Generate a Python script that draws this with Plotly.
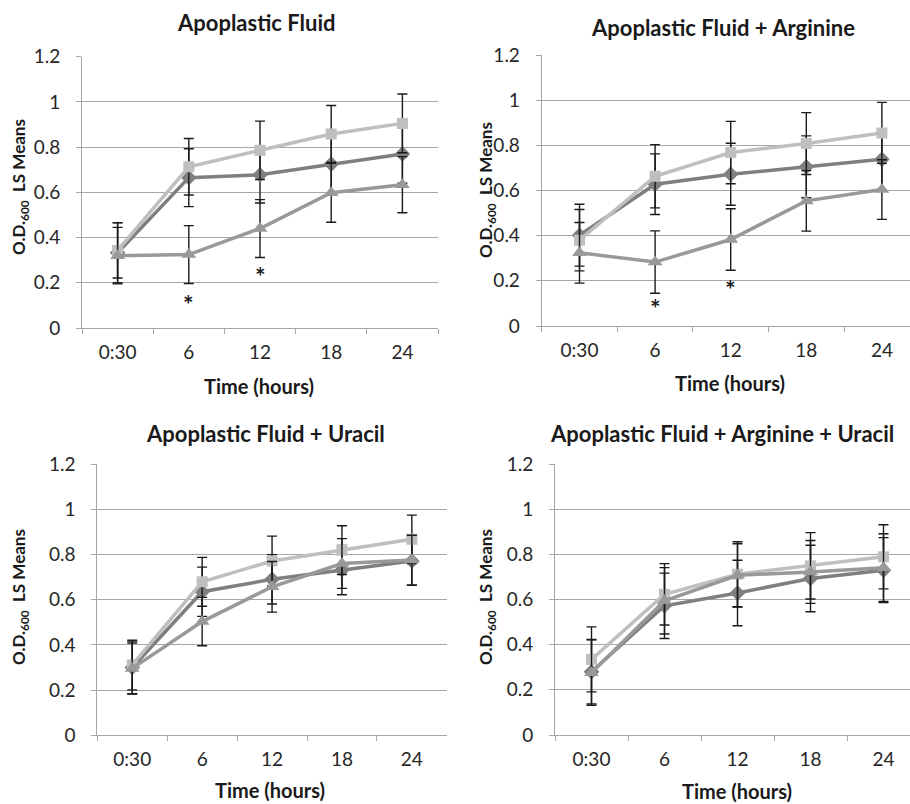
import plotly.graph_objects as go

times = ["0:30", "6", "12", "18", "24"]

titles = ["Apoplastic Fluid", "Apoplastic Fluid + Arginine",
          "Apoplastic Fluid + Uracil", "Apoplastic Fluid + Arginine + Uracil"]

# Series: diamond (dark), square (light), triangle (medium)
p1_diamond = [0.333, 0.665, 0.678, 0.725, 0.770]
p1_diamond_err = [0.133, 0.128, 0.125, 0.130, 0.130]
p1_square = [0.343, 0.713, 0.786, 0.858, 0.905]
p1_square_err = [0.122, 0.125, 0.129, 0.126, 0.130]
p1_triangle = [0.320, 0.325, 0.440, 0.598, 0.634]
p1_triangle_err = [0.125, 0.128, 0.128, 0.130, 0.124]

p2_diamond = [0.402, 0.628, 0.672, 0.705, 0.738]
p2_diamond_err = [0.137, 0.134, 0.137, 0.137, 0.135]
p2_square = [0.380, 0.663, 0.768, 0.808, 0.855]
p2_square_err = [0.136, 0.140, 0.138, 0.137, 0.135]
p2_triangle = [0.324, 0.283, 0.383, 0.554, 0.604]
p2_triangle_err = [0.134, 0.138, 0.136, 0.134, 0.132]

p3_diamond = [0.300, 0.635, 0.690, 0.731, 0.771]
p3_diamond_err = [0.117, 0.109, 0.109, 0.109, 0.108]
p3_square = [0.311, 0.679, 0.771, 0.819, 0.867]
p3_square_err = [0.110, 0.108, 0.110, 0.108, 0.107]
p3_triangle = [0.296, 0.503, 0.657, 0.760, 0.775]
p3_triangle_err = [0.112, 0.107, 0.112, 0.110, 0.110]

p4_diamond = [0.280, 0.572, 0.629, 0.693, 0.730]
p4_diamond_err = [0.143, 0.145, 0.145, 0.147, 0.144]
p4_square = [0.335, 0.623, 0.712, 0.749, 0.789]
p4_square_err = [0.144, 0.136, 0.144, 0.147, 0.142]
p4_triangle = [0.276, 0.594, 0.707, 0.722, 0.741]
p4_triangle_err = [0.145, 0.147, 0.140, 0.139, 0.150]

# significance markers: (panel, time label, y)
stars = [(1, "6", 0.133), (1, "12", 0.258), (2, "6", 0.106), (2, "12", 0.19)]

panels = [
    (p1_diamond, p1_diamond_err, p1_square, p1_square_err, p1_triangle, p1_triangle_err),
    (p2_diamond, p2_diamond_err, p2_square, p2_square_err, p2_triangle, p2_triangle_err),
    (p3_diamond, p3_diamond_err, p3_square, p3_square_err, p3_triangle, p3_triangle_err),
    (p4_diamond, p4_diamond_err, p4_square, p4_square_err, p4_triangle, p4_triangle_err),
]

W, H = 910, 804
FONT = "Lato, Open Sans, sans-serif"
TXT = "#262626"
GRID = "#A6A6A6"

# pixel layout: (left, right, y0 pixel, y1.2 pixel, category spacing)
geo = [
    (82.0, 438.0, 328.0, 56.7, 71.2),
    (541.7, 910.0, 326.0, 55.0, 75.6),
    (97.3, 446.7, 735.3, 464.0, 69.9),
    (555.0, 910.0, 735.0, 464.0, 73.0),
]
title_pos = [(256, 22), (723, 27), (265, 433), (722, 433)]
xtitle_pos = [(259, 386), (730, 383), (270, 790), (737, 791)]
ytitle_pos = [(20, 187), (487, 190), (20, 597), (487, 597)]

series_style = [
    ("#7F7F7F", "diamond", 12),
    ("#BFBFBF", "square", 11),
    ("#999999", "triangle-up", 13),
]

fig = go.Figure()
annotations = []
for i, pdata in enumerate(panels):
    n = i + 1
    xa = "x" if n == 1 else f"x{n}"
    ya = "y" if n == 1 else f"y{n}"
    for s in range(3):
        vals = pdata[2 * s]
        errs = pdata[2 * s + 1]
        col, sym, sz = series_style[s]
        fig.add_trace(go.Scatter(
            x=times, y=vals, mode="lines+markers",
            line=dict(color=col, width=3.5),
            marker=dict(symbol=sym, size=sz, color=col, line=dict(width=0)),
            error_y=dict(type="data", array=errs, visible=True,
                         color="#1a1a1a", thickness=1.4, width=5),
            xaxis=xa, yaxis=ya, showlegend=False, hoverinfo="skip",
        ))
    left, right, py0, py12, sp = geo[i]
    xr_end = -0.5 + (right - left) / sp
    xkey = "xaxis" if n == 1 else f"xaxis{n}"
    ykey = "yaxis" if n == 1 else f"yaxis{n}"
    fig.update_layout({
        xkey: dict(
            domain=[left / W, right / W], anchor=ya, type="category",
            categoryorder="array", categoryarray=times,
            range=[-0.5, xr_end], tickson="boundaries", automargin=False,
            ticks="outside", ticklen=5, tickcolor=GRID, tickwidth=1,
            showline=True, linecolor=GRID, linewidth=1,
            showgrid=False, zeroline=False,
            tickfont=dict(family=FONT, size=19, color=TXT),
            ticklabelstandoff=7,
        ),
        ykey: dict(
            domain=[(H - py0) / H, (H - py12) / H], anchor=xa, automargin=False,
            range=[0, 1.2], tickvals=[0, 0.2, 0.4, 0.6, 0.8, 1, 1.2],
            ticktext=["0", "0.2", "0.4", "0.6", "0.8", "1", "1.2"],
            ticks="outside", ticklen=5, tickcolor=GRID, tickwidth=1,
            showline=True, linecolor=GRID, linewidth=1,
            showgrid=True, gridcolor=GRID, gridwidth=1, zeroline=False,
            tickfont=dict(family=FONT, size=19, color=TXT),
            ticklabelstandoff=12,
        ),
    })
    tx, ty = title_pos[i]
    annotations.append(dict(
        text=f"<b>{titles[i]}</b>", x=tx / W, y=1 - ty / H, xref="paper", yref="paper",
        xanchor="center", yanchor="middle", showarrow=False,
        font=dict(family=FONT, size=22, color="#1a1a1a")))
    xx, xy = xtitle_pos[i]
    annotations.append(dict(
        text="<b>Time (hours)</b>", x=xx / W, y=1 - xy / H, xref="paper", yref="paper",
        xanchor="center", yanchor="middle", showarrow=False,
        font=dict(family=FONT, size=20, color="#1a1a1a")))
    yx, yy = ytitle_pos[i]
    annotations.append(dict(
        text="<b>O.D.<sub>600</sub>  LS Means</b>", x=yx / W, y=1 - yy / H,
        xref="paper", yref="paper", textangle=-90,
        xanchor="center", yanchor="middle", showarrow=False,
        font=dict(family=FONT, size=17, color="#1a1a1a")))

for (pn, t, yv) in stars:
    xa = "x" if pn == 1 else f"x{pn}"
    ya = "y" if pn == 1 else f"y{pn}"
    annotations.append(dict(
        text="<b>*</b>", x=times.index(t), y=yv, xref=xa, yref=ya, showarrow=False,
        xanchor="center", yanchor="middle", yshift=-6,
        font=dict(family=FONT, size=25, color="#1a1a1a")))

fig.update_layout(
    template="none",
    width=W, height=H, margin=dict(l=0, r=0, t=0, b=0, autoexpand=False),
    paper_bgcolor="white", plot_bgcolor="white",
    annotations=annotations, showlegend=False,
)

fig.write_html("out.html")
